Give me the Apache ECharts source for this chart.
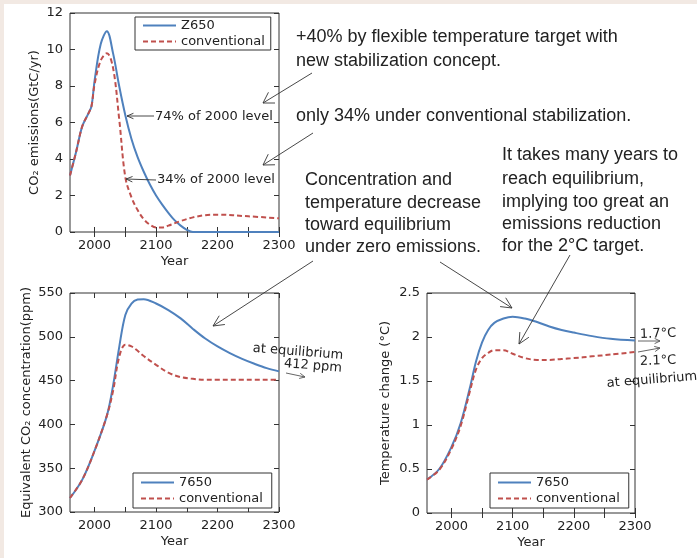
<!DOCTYPE html>
<html>
<head>
<meta charset="utf-8">
<script src="https://cdn.jsdelivr.net/npm/echarts@6/dist/echarts.min.js"></script>
<style>
  html, body { margin: 0; padding: 0; background: #fff; }
  #main { width: 697px; height: 558px; }
</style>
</head>
<body>
<div id="main"></div>
<script>
// emissions (GtC/yr)
var emisYearsZ = [1960, 1970, 1980, 1990, 1995, 2000, 2010, 2020, 2030, 2040, 2050, 2060, 2070, 2080, 2090, 2100, 2110, 2120, 2130, 2140, 2150, 2160, 2200, 2250, 2300];
var emisZ650 = [3.1, 4.4, 5.8, 6.5, 6.9, 8.3, 10.3, 11.0, 9.8, 8.0, 6.4, 5.1, 4.1, 3.3, 2.6, 2.0, 1.5, 1.05, 0.65, 0.35, 0.12, 0, 0, 0, 0];
var emisYearsC = [1960, 1970, 1980, 1990, 1995, 2000, 2010, 2020, 2030, 2040, 2050, 2060, 2070, 2080, 2090, 2100, 2110, 2120, 2140, 2160, 2180, 2200, 2250, 2300];
var emisConv = [3.1, 4.4, 5.8, 6.5, 6.9, 8.1, 9.4, 9.8, 9.0, 6.2, 3.0, 1.9, 1.2, 0.7, 0.4, 0.25, 0.25, 0.35, 0.6, 0.8, 0.92, 0.95, 0.86, 0.75];

// equivalent CO2 concentration (ppm)
var concYears = [1960, 1980, 2000, 2020, 2030, 2040, 2050, 2060, 2070, 2080, 2100, 2120, 2140, 2160, 2180, 2200, 2220, 2240, 2260, 2280, 2300];
var concZ650 = [316, 337, 370, 410, 444, 488, 525, 538, 542.5, 543, 538, 530.5, 521, 509, 498, 489, 481.4, 474.8, 469.2, 464.2, 460.5];
var concConv = [316, 337, 370, 410, 438, 477, 491, 489, 484, 478, 468, 459, 454, 452, 451, 451, 451, 451, 451, 451, 451];

// temperature change (°C)
var tempYears = [1960, 1980, 2000, 2015, 2030, 2040, 2050, 2060, 2070, 2085, 2100, 2120, 2140, 2160, 2180, 2200, 2230, 2260, 2300];
var tempZ650 = [0.38, 0.5, 0.75, 1.02, 1.42, 1.72, 1.94, 2.08, 2.16, 2.21, 2.23, 2.21, 2.17, 2.12, 2.08, 2.05, 2.01, 1.98, 1.96];
var tempConv = [0.38, 0.49, 0.73, 0.99, 1.38, 1.63, 1.76, 1.82, 1.85, 1.85, 1.81, 1.76, 1.74, 1.74, 1.75, 1.76, 1.78, 1.80, 1.83];

var tickYears = [2000, 2050, 2100, 2150, 2200, 2250, 2300];
var labelYears = [2000, 2100, 2200, 2300];

var BLUE = "#4f81bd";
var RED = "#c0504d";
var AXIS_FONT = "DejaVu Sans";
var NOTE_FONT = "Liberation Sans, Arial";

function pairs(xs, ys) {
  return xs.map(function (x, i) { return [x, ys[i]]; });
}

var chart = echarts.init(document.getElementById("main"));

// 3 plots : emissions, concentration, temperature
var grids = [
  { left: 70, top: 13, width: 209, height: 219, show: true, borderColor: "#333", borderWidth: 1 },
  { left: 70, top: 293, width: 209, height: 219, show: true, borderColor: "#333", borderWidth: 1 },
  { left: 427, top: 293, width: 208, height: 220, show: true, borderColor: "#333", borderWidth: 1 },
];

var xAxes = [];
var yAxes = [];
var yCfg = [
  { min: 0, max: 12, interval: 2, name: "CO\u2082 emissions(GtC/yr)", gap: 29 },
  { min: 300, max: 550, interval: 50, name: "Equivalent CO\u2082 concentration(ppm)", gap: 37 },
  { min: 0, max: 2.5, interval: 0.5, name: "Temperature change (\u00b0C)", gap: 35 },
];
for (var g = 0; g < 3; g++) {
  xAxes.push({
    gridIndex: g, type: "value", min: 1960, max: 2300, position: "bottom",
    axisLine: { show: false },
    axisTick: { inside: true, length: 5, customValues: tickYears, lineStyle: { color: "#333" } },
    axisLabel: {
      customValues: labelYears, fontSize: 13, color: "#222", margin: 7, fontFamily: AXIS_FONT,
      formatter: function (v) { return String(v); },
    },
    splitLine: { show: false },
    name: "Year", nameLocation: "middle", nameGap: 23,
    nameTextStyle: { fontSize: 13, color: "#222", fontFamily: AXIS_FONT },
  });
  xAxes.push({
    gridIndex: g, type: "value", min: 1960, max: 2300, position: "top",
    axisLine: { show: false },
    axisTick: { inside: true, length: 5, customValues: tickYears, lineStyle: { color: "#333" } },
    axisLabel: { show: false },
    splitLine: { show: false },
  });
  yAxes.push({
    gridIndex: g, type: "value", min: yCfg[g].min, max: yCfg[g].max, interval: yCfg[g].interval, position: "left",
    axisLine: { show: false },
    axisTick: { inside: true, length: 5, lineStyle: { color: "#333" } },
    axisLabel: { fontSize: 13, color: "#222", margin: 7, fontFamily: AXIS_FONT },
    splitLine: { show: false },
    name: yCfg[g].name, nameLocation: "middle", nameGap: yCfg[g].gap,
    nameTextStyle: { fontSize: 13, color: "#222", fontFamily: AXIS_FONT },
  });
  yAxes.push({
    gridIndex: g, type: "value", min: yCfg[g].min, max: yCfg[g].max, interval: yCfg[g].interval, position: "right",
    axisLine: { show: false },
    axisTick: { inside: true, length: 5, lineStyle: { color: "#333" } },
    axisLabel: { show: false },
    splitLine: { show: false },
  });
}

function lineSeries(name, data, axisIdx, color, dashed) {
  return {
    name: name, type: "line", data: data,
    xAxisIndex: axisIdx * 2, yAxisIndex: axisIdx * 2,
    smooth: 0.35, symbol: "none",
    lineStyle: { color: color, width: 2, type: dashed ? [5, 3] : "solid" },
    itemStyle: { color: color },
  };
}

var series = [
  lineSeries("Z650", pairs(emisYearsZ, emisZ650), 0, BLUE, false),
  lineSeries("conventional", pairs(emisYearsC, emisConv), 0, RED, true),
  lineSeries("7650", pairs(concYears, concZ650), 1, BLUE, false),
  lineSeries("conventional", pairs(concYears, concConv), 1, RED, true),
  lineSeries("7650", pairs(tempYears, tempZ650), 2, BLUE, false),
  lineSeries("conventional", pairs(tempYears, tempConv), 2, RED, true),
];

function legendBox(names, left, top, padding) {
  return {
    data: names, orient: "vertical", left: left, top: top,
    padding: padding, itemGap: 3, itemWidth: 33, itemHeight: 13,
    borderColor: "#333", borderWidth: 1, backgroundColor: "#fff",
    itemStyle: { opacity: 0 },
    textStyle: { fontSize: 13, color: "#222", fontFamily: AXIS_FONT },
    selectedMode: false,
  };
}

// annotation helpers
function txt(s, x, y, size, font, rot) {
  return {
    type: "text", x: x, y: y, rotation: rot || 0, z: 50,
    style: { text: s, fontSize: size, fontFamily: font, fill: "#222", verticalAlign: "middle", align: "left" },
  };
}
function ctxt(s, x, y, size, rot) {
  return {
    type: "text", x: x, y: y, rotation: rot || 0, z: 50,
    style: { text: s, fontSize: size, fontFamily: AXIS_FONT, fill: "#222", verticalAlign: "middle", align: "center" },
  };
}
function arrow(x1, y1, x2, y2, color, head, spread) {
  var a = Math.atan2(y1 - y2, x1 - x2);
  var s = spread || 0.45;
  var h = head || 10;
  return [
    { type: "line", z: 50, shape: { x1: x1, y1: y1, x2: x2, y2: y2 }, style: { stroke: color, lineWidth: 0.9 } },
    {
      type: "polyline", z: 50,
      shape: { points: [[x2 + h * Math.cos(a - s), y2 + h * Math.sin(a - s)], [x2, y2], [x2 + h * Math.cos(a + s), y2 + h * Math.sin(a + s)]] },
      style: { stroke: color, lineWidth: 0.9, fill: null },
    },
  ];
}

var notes = [
  { type: "rect", z: 60, shape: { x: 0, y: 0, width: 697, height: 4 }, style: { fill: "#f2e9e3" } },
  { type: "rect", z: 60, shape: { x: 0, y: 0, width: 4, height: 558 }, style: { fill: "#f2e9e3" } },

  txt("+40% by flexible temperature target with", 296, 37, 18, NOTE_FONT),
  txt("new stabilization concept.", 296, 61, 18, NOTE_FONT),
  txt("only 34% under conventional stabilization.", 296, 116, 18, NOTE_FONT),
  txt("Concentration and", 305, 180, 18, NOTE_FONT),
  txt("temperature decrease", 305, 203, 18, NOTE_FONT),
  txt("toward equilibrium", 305, 225, 18, NOTE_FONT),
  txt("under zero emissions.", 305, 247, 18, NOTE_FONT),
  txt("It takes many years to", 502, 155, 18, NOTE_FONT),
  txt("reach equilibrium,", 502, 179, 18, NOTE_FONT),
  txt("implying too great an", 502, 202, 18, NOTE_FONT),
  txt("emissions reduction", 502, 224, 18, NOTE_FONT),
  txt("for the 2\u00b0C target.", 502, 246, 18, NOTE_FONT),

  txt("74% of 2000 level", 155, 117, 13, AXIS_FONT),
  txt("34% of 2000 level", 157, 180, 13, AXIS_FONT),

  ctxt("at equilibrium", 298, 352, 13, -0.08),
  ctxt("412 ppm", 313, 366, 13, -0.08),
  ctxt("1.7\u00b0C", 658, 334, 13, 0.03),
  ctxt("2.1\u00b0C", 658, 361, 13, 0.03),
  ctxt("at equilibrium", 652, 380, 13, 0.08),
];
notes = notes.concat(
  arrow(312, 73, 263, 103, "#333", 12, 0.55),
  arrow(313, 133, 263, 165, "#333", 12, 0.55),
  arrow(154, 116, 127, 116, "#333", 7, 0.4),
  arrow(156, 180, 126, 179, "#333", 7, 0.4),
  arrow(313, 261, 213, 326, "#333", 12, 0.45),
  arrow(440, 262, 512, 308, "#333", 12, 0.45),
  arrow(570, 255, 519, 344, "#333", 12, 0.45),
  arrow(286, 373, 305, 377, "#555", 6, 0.45),
  arrow(638, 341, 660, 341, "#555", 6, 0.45),
  arrow(638, 352, 660, 348, "#555", 6, 0.45)
);

var option = {
  animation: false,
  backgroundColor: "#fff",
  grid: grids,
  xAxis: xAxes,
  yAxis: yAxes,
  legend: [
    legendBox(["Z650", "conventional"], 135, 17, [2, 6, 2, 7]),
    legendBox(["7650", "conventional"], 133, 473, [3, 9, 3, 7]),
    legendBox(["7650", "conventional"], 490, 473, [3, 9, 3, 7]),
  ],
  series: series,
  graphic: notes,
};

chart.setOption(option);
</script>
</body>
</html>
